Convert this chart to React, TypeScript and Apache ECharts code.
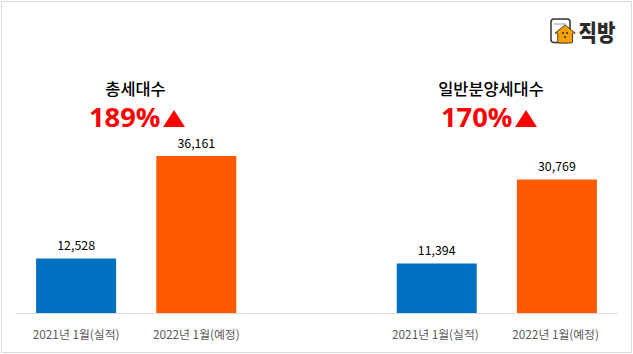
import React, { useEffect, useRef } from "react";
import * as echarts from "echarts";

const categories = ["2021년 1월(실적)", "2022년 1월(예정)", "", "2021년 1월(실적) ", "2022년 1월(예정) "];
const values: (number | null)[] = [12528, 36161, null, 11394, 30769];
const barColors = ["#0070C0", "#FF5A00", "#FFFFFF", "#0070C0", "#FF5A00"];
const headings = ["총세대수", "일반분양세대수"];
const rates = ["189%", "170%"];

const KR = '"Noto Sans CJK KR", "Noto Sans", sans-serif';

echarts.graphic.registerShape(
  "houseIcon",
  echarts.graphic.extendPath(
    "M11 0 L22 9 L19 9 L19 19 Q19 20 18 20 L4 20 Q3 20 3 19 L3 9 L0 9 Z",
    {}
  )
);

export default function App() {
  const ref = useRef<HTMLDivElement>(null);
  useEffect(() => {
    document.body.style.margin = "0";
    const chart = echarts.init(ref.current!, undefined, { renderer: "svg" });
    chart.setOption({
      animation: false,
      backgroundColor: "#ffffff",
      grid: { left: 16, top: 20, width: 601, height: 293 },
      xAxis: {
        type: "category",
        data: categories,
        axisLine: { lineStyle: { color: "#D9D9D9", width: 1 } },
        axisTick: { show: false },
        axisLabel: {
          color: "#595959",
          fontSize: 11.8,
          fontFamily: KR,
          margin: 15,
          interval: 0,
        },
      },
      yAxis: { type: "value", min: 0, max: 67500, show: false },
      series: [
        {
          type: "bar",
          barWidth: 80,
          data: values.map((v, i) => ({
            value: v,
            itemStyle: { color: barColors[i] },
          })),
          label: {
            show: true,
            position: "top",
            distance: 7,
            color: "#000000",
            fontSize: 12.4,
            fontFamily: KR,
            formatter: (p: any) => Number(p.value).toLocaleString("en-US"),
          },
        },
      ],
      graphic: [
        {
          type: "rect",
          silent: true,
          shape: { x: 1.5, y: 1.5, width: 630, height: 351 },
          style: { fill: "none", stroke: "#D9D9D9", lineWidth: 1 },
        },
        ...headings.map((t, i) => ({
          type: "text",
          x: [135.5, 491][i],
          y: 88,
          style: {
            text: t,
            fill: "#000000",
            fontSize: 16.4,
            fontWeight: 500,
            fontFamily: KR,
            align: "center",
            verticalAlign: "middle",
          },
        })),
        ...rates.map((t, i) => ({
          type: "text",
          x: [89, 441][i],
          y: 116,
          style: {
            text: t,
            fill: "#FF0000",
            fontSize: 27.3,
            fontWeight: 700,
            fontFamily: '"Open Sans", sans-serif',
            align: "left",
            verticalAlign: "middle",
          },
        })),
        ...[0, 1].map((i) => ({
          type: "polygon",
          x: [163, 515][i],
          y: 110,
          shape: { points: [[11, 0], [22, 17], [0, 17]] },
          style: { fill: "#FF0000" },
        })),
        {
          type: "rect",
          shape: { x: 551, y: 19, width: 19, height: 23.5, r: 3 },
          style: { fill: "#FFFFFF", stroke: "#333333", lineWidth: 1.5 },
        },
        {
          type: "line",
          shape: { x1: 554, y1: 24, x2: 566, y2: 24 },
          style: { stroke: "#999999", lineWidth: 1 },
        },
        {
          type: "houseIcon",
          x: 555,
          y: 25,
          scaleX: 0.92,
          scaleY: 0.9,
          style: { fill: "#FFA200", stroke: "#333333", lineWidth: 1 },
        },
        ...[[563, 33], [567, 33], [565, 37]].map(([cx, cy]) => ({
          type: "circle",
          shape: { cx, cy, r: 1 },
          style: { fill: "#333333" },
        })),
        {
          type: "text",
          x: 578.5,
          y: 31,
          scaleY: 1.15,
          style: {
            text: "직방",
            fill: "#2B2B2B",
            fontSize: 20,
            fontWeight: 900,
            fontFamily: KR,
            align: "left",
            verticalAlign: "middle",
          },
        },
      ],
    });
    return () => chart.dispose();
  }, []);
  return <div ref={ref} style={{ width: 633, height: 354 }} />;
}
